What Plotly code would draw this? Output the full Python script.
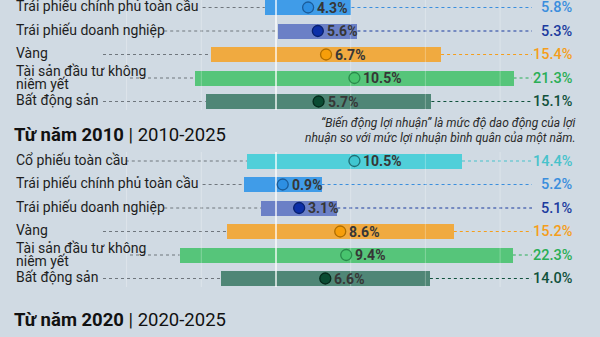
import plotly.graph_objects as go

# ---------------- DATA ----------------
sec1_categories = ["Trái phiếu chính phủ toàn cầu", "Trái phiếu doanh nghiệp", "Vàng",
                   "Tài sản đầu tư không\nniêm yết", "Bất động sản"]
sec1_returns = [4.3, 5.6, 6.7, 10.5, 5.7]
sec1_volatility = [5.8, 5.3, 15.4, 21.3, 15.1]

sec2_title_bold = "Từ năm 2010"
sec2_title_range = "2010-2025"
sec2_categories = ["Cổ phiếu toàn cầu", "Trái phiếu chính phủ toàn cầu", "Trái phiếu doanh nghiệp",
                   "Vàng", "Tài sản đầu tư không\nniêm yết", "Bất động sản"]
sec2_returns = [10.5, 0.9, 3.1, 8.6, 9.4, 6.6]
sec2_volatility = [14.4, 5.2, 5.1, 15.2, 22.3, 14.0]

sec3_title_bold = "Từ năm 2020"
sec3_title_range = "2020-2025"
sec3_categories = ["Cổ phiếu toàn cầu"]

note_lines = ["“Biến động lợi nhuận” là mức độ dao động của lợi",
              "nhuận so với mức lợi nhuận bình quân của một năm."]

grid_values = [-20, -10, 10, 20, 30]

# ---------------- STYLE ----------------
BG = "#d0dae3"
FONT = "Roboto, 'Noto Sans', sans-serif"
STYLE = {
    "Cổ phiếu toàn cầu": dict(bar="#50cfd9", dot="#40c6d0", ring="#1f6f75", lab="#47c2cb"),
    "Trái phiếu chính phủ toàn cầu": dict(bar="#409ce8", dot="#2d8fe3", ring="#1b5c9a", lab="#3a8edd"),
    "Trái phiếu doanh nghiệp": dict(bar="#6b80c6", dot="#0c2fa8", ring="#08206e", lab="#1b3b9e"),
    "Vàng": dict(bar="#f0aa40", dot="#f79e0a", ring="#b06e00", lab="#f59e1b"),
    "Tài sản đầu tư không\nniêm yết": dict(bar="#56c57a", dot="#48c46e", ring="#2a8a4c", lab="#2aae56"),
    "Bất động sản": dict(bar="#4f8676", dot="#0a4b32", ring="#032a1b", lab="#10513c"),
}

W, H = 600, 337
ZERO_PX = 276.0
PX_PER_UNIT = 7.47
ROW_STEP = 23.5
BAR_H = 15


def px2x(px):
    return (px - ZERO_PX) / PX_PER_UNIT


sections = [
    dict(cats=sec1_categories, ret=sec1_returns, vol=sec1_volatility, y0=7.5, grid=(-5, 110)),
    dict(cats=sec2_categories, ret=sec2_returns, vol=sec2_volatility, y0=161, grid=(152, 287)),
]

fig = go.Figure()
shapes = []
annotations = []

for sec in sections:
    ys = [sec["y0"] + i * ROW_STEP for i in range(len(sec["cats"]))]
    bases = [r - v for r, v in zip(sec["ret"], sec["vol"])]
    widths = [2 * v for v in sec["vol"]]
    fig.add_trace(go.Bar(
        orientation="h", y=ys, x=widths, base=bases, width=BAR_H,
        marker=dict(color=[STYLE[c]["bar"] for c in sec["cats"]], line=dict(width=0)),
        hoverinfo="skip", showlegend=False))
    g0, g1 = sec["grid"]
    for gv in grid_values:
        fig.add_trace(go.Scatter(x=[gv, gv], y=[g0, g1], mode="lines",
                                 line=dict(color="rgba(255,255,255,0.28)", width=1),
                                 hoverinfo="skip", showlegend=False))
    fig.add_trace(go.Scatter(x=[0, 0], y=[g0, g1], mode="lines",
                             line=dict(color="rgba(255,255,255,0.9)", width=1.5),
                             hoverinfo="skip", showlegend=False))
    fig.add_trace(go.Scatter(
        x=sec["ret"], y=ys, mode="markers",
        marker=dict(size=11, color=[STYLE[c]["dot"] for c in sec["cats"]],
                    line=dict(color=[STYLE[c]["ring"] for c in sec["cats"]], width=1.3)),
        hoverinfo="skip", showlegend=False))

    for cat, r, v, y, b in zip(sec["cats"], sec["ret"], sec["vol"], ys, bases):
        st = STYLE[cat]
        lines = cat.split("\n")
        if len(lines) == 1:
            annotations.append(dict(x=14 / W, xref="paper", y=y - 1.5, yref="y", text=lines[0],
                                    xanchor="left", yanchor="middle", showarrow=False,
                                    font=dict(family=FONT, size=14, color="#1e1e1e")))
            start_px = max(103, 14 + 6.4 * len(lines[0]) + 3)
        else:
            for k, ln in enumerate(lines):
                annotations.append(dict(x=14 / W, xref="paper", y=y - 7.5 + 13 * k, yref="y", text=ln,
                                        xanchor="left", yanchor="middle", showarrow=False,
                                        font=dict(family=FONT, size=14, color="#1e1e1e")))
            start_px = 14 + 6.4 * len(lines[0]) - 12
        shapes.append(dict(type="line", xref="x", yref="y", x0=px2x(start_px), x1=b, y0=y, y1=y,
                           line=dict(color="#6f767d", width=1, dash="dot"), layer="below"))
        shapes.append(dict(type="line", xref="x", yref="y", x0=r + v, x1=px2x(532), y0=y, y1=y,
                           line=dict(color=st["lab"], width=1, dash="dot"), layer="below"))
        annotations.append(dict(x=r, xref="x", y=y, yref="y", text=f"<b>{r:.1f}%</b>",
                                xanchor="left", yanchor="middle", xshift=7, showarrow=False,
                                font=dict(family=FONT, size=14, color="#363636")))
        annotations.append(dict(x=575 / W, xref="paper", y=y, yref="y", text=f"{v:.1f}%",
                                xanchor="right", yanchor="middle", showarrow=False,
                                font=dict(family=FONT, size=14.5, color=st["lab"], weight=500)))

for tb, tr, ty in [(sec2_title_bold, sec2_title_range, 135), (sec3_title_bold, sec3_title_range, 320)]:
    annotations.append(dict(x=12 / W, xref="paper", y=ty, yref="y",
                            text=f"<b>{tb}</b> | {tr}", xanchor="left", yanchor="middle",
                            showarrow=False, font=dict(family=FONT, size=18.5, color="#111111")))

for cat in sec3_categories:
    annotations.append(dict(x=14 / W, xref="paper", y=343, yref="y", text=cat,
                            xanchor="left", yanchor="middle", showarrow=False,
                            font=dict(family=FONT, size=14, color="#1e1e1e")))

for k, ln in enumerate(note_lines):
    annotations.append(dict(x=578 / W, xref="paper", y=123 + 15 * k, yref="y", text=f"<i>{ln}</i>",
                            xanchor="right", yanchor="middle", showarrow=False,
                            font=dict(family=FONT, size=12, color="#2a2a2a")))

fig.update_layout(
    width=W, height=H, margin=dict(l=0, r=0, t=0, b=0),
    paper_bgcolor=BG, plot_bgcolor=BG,
    xaxis=dict(range=[px2x(0), px2x(W)], visible=False, fixedrange=True),
    yaxis=dict(range=[H, 0], visible=False, fixedrange=True),
    shapes=shapes, annotations=annotations, bargap=0,
)

fig.write_html("out.html")
